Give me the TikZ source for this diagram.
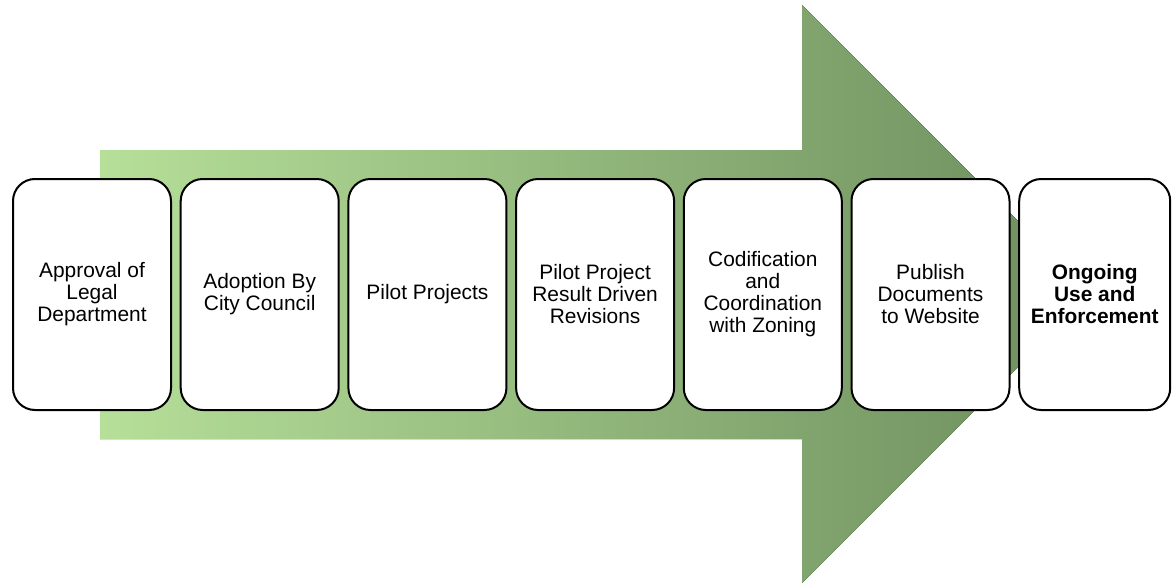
\documentclass[tikz,border=0pt]{standalone}
\usepackage{fontspec}
\setmainfont{Liberation Sans}
\usetikzlibrary{positioning}
\definecolor{lightgreen}{RGB}{182,223,153}
\definecolor{darkgreen}{RGB}{108,141,93}
\tikzstyle{stage} = [rectangle, draw, line width=2pt, rounded corners=22pt, fill=white, minimum width=158pt, minimum height=231pt, inner sep=0pt, align=center, font=\fontsize{20.9}{22}\selectfont]

\begin{document}
\begin{tikzpicture}[x=1pt,y=-1pt]
\useasboundingbox (0,0) rectangle (1172,583);
% big shaded arrow behind the steps
\fill [left color=lightgreen, right color=darkgreen] (100,150) -- (802,150) -- (802,5) -- (1091,294) -- (802,583) -- (802,439) -- (100,439) -- cycle;
\node [stage] (a) at (92,294.5) {Approval of\\Legal\\Department};
\node [stage] (b) [right=7.7pt of a] {Adoption By\\City Council};
\node [stage] (c) [right=7.7pt of b] {Pilot Projects};
\node [stage] (d) [right=7.7pt of c] {Pilot Project\\Result Driven\\Revisions};
\node [stage] (e) [right=7.7pt of d] {Codification\\and\\Coordination\\with Zoning};
\node [stage] (f) [right=7.7pt of e] {Publish\\Documents\\to Website};
\node [stage, minimum width=151pt, font=\fontsize{20.9}{22}\selectfont\bfseries] (g) [right=7.7pt of f] {Ongoing\\Use and\\Enforcement};
\end{tikzpicture}
\end{document}
